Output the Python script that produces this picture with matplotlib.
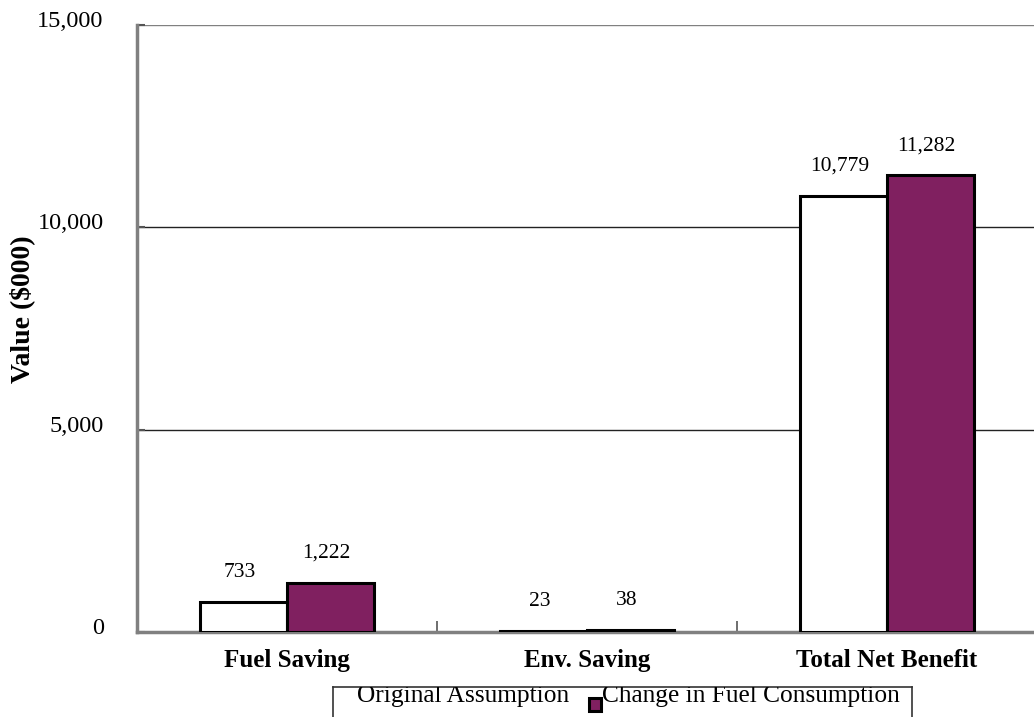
"""Benefit comparison: original assumption vs change in fuel consumption."""
import matplotlib
matplotlib.use('Agg')

import matplotlib.pyplot as plt
import matplotlib.transforms as mtransforms
from matplotlib.patches import Rectangle
import numpy as np

categories = ['Fuel Saving', 'Env. Saving', 'Total Net Benefit']
original = [733, 23, 10779]
fuel_change = [1222, 38, 11282]
series_names = ['Original Assumption', 'Change in Fuel Consumption']
yticks = [0, 5000, 10000, 15000]

purple = '#802060'
serif = 'Liberation Serif'

plt.rcParams['font.family'] = [serif, 'DejaVu Serif']

W, H = 1034, 717
fig = plt.figure(figsize=(W / 100, H / 100), dpi=100)

# plot area in pixels: x 137..1037, y 25..632 (from the top)
ax = fig.add_axes([137 / W, (H - 632) / H, 900 / W, 607 / H])

x = np.arange(len(categories))
bw = 0.29

b1 = ax.bar(x - bw / 2, original, bw, color='white', edgecolor='black',
            lw=2.2, zorder=3)
b2 = ax.bar(x + bw / 2, fuel_change, bw, color=purple, edgecolor='black',
            lw=2.2, zorder=3)

for bars, vals in ((b1, original), (b2, fuel_change)):
    for rect, v in zip(bars, vals):
        ax.annotate(f'{v:,}', (rect.get_x() + rect.get_width() / 2, v),
                    xytext=(-3, 18), textcoords='offset points',
                    ha='center', va='baseline', fontsize=15.5)

ax.set_xlim(-0.5, 2.5)
ax.set_ylim(0, 15000)

ax.set_yticks(yticks)
ax.set_yticklabels([f'{t:,}' for t in yticks], fontsize=17.5)
ax.tick_params(axis='y', direction='in', length=6, width=1.5,
               color='#555555', pad=24)
shift = mtransforms.ScaledTranslation(0, 6 / 100, fig.dpi_scale_trans)
for lab in ax.get_yticklabels():
    lab.set_transform(lab.get_transform() + shift)

# category separators on the x axis
ax.set_xticks([0.5, 1.5], minor=True)
ax.set_xticks(x)
ax.set_xticklabels(categories, fontsize=18, fontweight='bold')
ax.tick_params(axis='x', which='major', length=0, pad=12)
ax.tick_params(axis='x', which='minor', direction='in', length=8,
               width=1.2, color='#555555')

ax.set_ylabel('Value ($000)', fontsize=20, fontweight='bold')
ax.yaxis.set_label_coords(-102 / 900, (632 - 309) / 607)

ax.grid(axis='y', color='#222222', lw=1.0, zorder=0)
ax.get_ygridlines()[-1].set_color('#808080')
for side in ('top', 'right'):
    ax.spines[side].set_visible(False)
for side in ('left', 'bottom'):
    ax.spines[side].set_color('#808080')
    ax.spines[side].set_linewidth(2.5)

# legend box, cut off at the bottom of the figure
lax = fig.add_axes([333 / W, 0, 579 / W, 30 / H])
lax.set_xlim(0, 579)
lax.set_ylim(0, 30)
lax.set_xticks([])
lax.set_yticks([])
lax.spines['bottom'].set_visible(False)
for side in ('left', 'top', 'right'):
    lax.spines[side].set_color('#333333')
    lax.spines[side].set_linewidth(1.2)
lax.patch.set_alpha(0)

lax.text(24, 15, series_names[0], fontsize=18.3, va='baseline', clip_on=True)
lax.add_patch(Rectangle((256, 6), 12, 13, facecolor=purple,
                        edgecolor='black', lw=2.2))
lax.text(269, 15, series_names[1], fontsize=18.3, va='baseline', clip_on=True)

fig.savefig('out.png', dpi=100)
plt.close(fig)
